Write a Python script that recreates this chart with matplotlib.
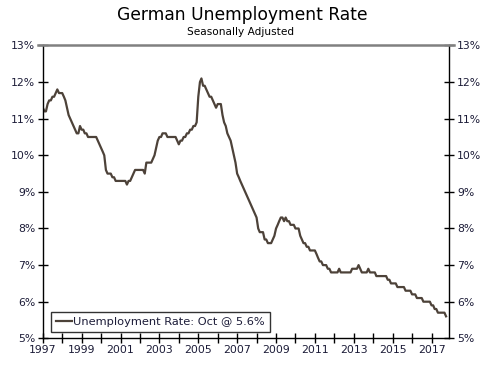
import matplotlib
matplotlib.use("Agg")
import matplotlib.pyplot as plt
import matplotlib.dates as mdates
import matplotlib.ticker as mticker
import pandas as pd
from matplotlib.lines import Line2D

# Monthly German unemployment rate (%), seasonally adjusted, Jan 1997 - Oct 2017
r1997 = [11.3, 11.2, 11.2, 11.4, 11.5, 11.5, 11.6, 11.6, 11.7, 11.8, 11.7, 11.7]
r1998 = [11.7, 11.6, 11.5, 11.3, 11.1, 11.0, 10.9, 10.8, 10.7, 10.6, 10.6, 10.8]
r1999 = [10.7, 10.7, 10.6, 10.6, 10.5, 10.5, 10.5, 10.5, 10.5, 10.5, 10.4, 10.3]
r2000 = [10.2, 10.1, 10.0, 9.6, 9.5, 9.5, 9.5, 9.4, 9.4, 9.3, 9.3, 9.3]
r2001 = [9.3, 9.3, 9.3, 9.3, 9.2, 9.3, 9.3, 9.4, 9.5, 9.6, 9.6, 9.6]
r2002 = [9.6, 9.6, 9.6, 9.5, 9.8, 9.8, 9.8, 9.8, 9.9, 10.0, 10.2, 10.4]
r2003 = [10.5, 10.5, 10.6, 10.6, 10.6, 10.5, 10.5, 10.5, 10.5, 10.5, 10.5, 10.4]
r2004 = [10.3, 10.4, 10.4, 10.5, 10.5, 10.6, 10.6, 10.7, 10.7, 10.8, 10.8, 10.9]
r2005 = [11.6, 12.0, 12.1, 11.9, 11.9, 11.8, 11.7, 11.6, 11.6, 11.5, 11.4, 11.3]
r2006 = [11.4, 11.4, 11.4, 11.1, 10.9, 10.8, 10.6, 10.5, 10.4, 10.2, 10.0, 9.8]
r2007 = [9.5, 9.4, 9.3, 9.2, 9.1, 9.0, 8.9, 8.8, 8.7, 8.6, 8.5, 8.4]
r2008 = [8.3, 8.0, 7.9, 7.9, 7.9, 7.7, 7.7, 7.6, 7.6, 7.6, 7.7, 7.8]
r2009 = [8.0, 8.1, 8.2, 8.3, 8.3, 8.2, 8.3, 8.2, 8.2, 8.1, 8.1, 8.1]
r2010 = [8.0, 8.0, 8.0, 7.8, 7.7, 7.6, 7.6, 7.5, 7.5, 7.4, 7.4, 7.4]
r2011 = [7.4, 7.3, 7.2, 7.1, 7.1, 7.0, 7.0, 7.0, 6.9, 6.9, 6.8, 6.8]
r2012 = [6.8, 6.8, 6.8, 6.9, 6.8, 6.8, 6.8, 6.8, 6.8, 6.8, 6.8, 6.9]
r2013 = [6.9, 6.9, 6.9, 7.0, 6.9, 6.8, 6.8, 6.8, 6.8, 6.9, 6.8, 6.8]
r2014 = [6.8, 6.8, 6.7, 6.7, 6.7, 6.7, 6.7, 6.7, 6.7, 6.6, 6.6, 6.5]
r2015 = [6.5, 6.5, 6.5, 6.4, 6.4, 6.4, 6.4, 6.4, 6.3, 6.3, 6.3, 6.3]
r2016 = [6.2, 6.2, 6.2, 6.1, 6.1, 6.1, 6.1, 6.0, 6.0, 6.0, 6.0, 6.0]
r2017 = [5.9, 5.9, 5.8, 5.8, 5.7, 5.7, 5.7, 5.7, 5.7, 5.6]

rates = (r1997 + r1998 + r1999 + r2000 + r2001 + r2002 + r2003 + r2004 + r2005
         + r2006 + r2007 + r2008 + r2009 + r2010 + r2011 + r2012 + r2013 + r2014
         + r2015 + r2016 + r2017)
dates = pd.date_range("1997-01-01", periods=len(rates), freq="MS")

title = "German Unemployment Rate"
subtitle = "Seasonally Adjusted"
legend_label = "Unemployment Rate: Oct @ 5.6%"
y_ticks = [5, 6, 7, 8, 9, 10, 11, 12, 13]

line_color = "#4d4239"
text_color = "#1c1c38"

fig = plt.figure(figsize=(5.0, 3.69), dpi=100)
ax = fig.add_axes([0.0856, 0.0832, 0.8130, 0.7935])

ax.plot(dates, rates, color=line_color, lw=1.6, solid_joinstyle="round",
        label=legend_label)

ax.set_xlim(pd.Timestamp("1997-01-01"), pd.Timestamp("2017-12-01"))
ax.set_ylim(5, 13)

ax.xaxis.set_major_locator(mdates.YearLocator(1))
ax.xaxis.set_major_formatter(
    mticker.FuncFormatter(lambda v, p: (str(mdates.num2date(v).year)
                                        if mdates.num2date(v).year % 2 == 1 else "")))
ax.set_yticks(y_ticks)
ax.yaxis.set_major_formatter(mticker.FuncFormatter(lambda v, p: f"{int(round(v))}%"))

ax.tick_params(axis="both", direction="inout", length=7, width=1, color="black",
               labelsize=7.8, labelcolor=text_color)
ax.tick_params(axis="y", left=True, right=True, labelleft=True, labelright=True, pad=2)
ax.tick_params(axis="x", pad=1)

for s in ["left", "right", "bottom"]:
    ax.spines[s].set_color("black")
    ax.spines[s].set_linewidth(1.0)
ax.spines["top"].set_visible(False)
# grey top rule at 13%
ax.add_line(Line2D([-0.012, 1.012], [1, 1], transform=ax.transAxes, color="#808080",
                   lw=1.8, clip_on=False, zorder=5))

leg = ax.legend(loc="lower left", bbox_to_anchor=(0.02, 0.02), borderaxespad=0,
                frameon=True, fancybox=False, edgecolor="black", fontsize=8.2,
                handlelength=1.4, handletextpad=0.1, borderpad=0.45)
leg.get_frame().set_linewidth(1.0)
for t in leg.get_texts():
    t.set_color(text_color)

fig.text(0.485, 0.958, title, ha="center", va="center", fontsize=12.3, color="black")
fig.text(0.482, 0.913, subtitle, ha="center", va="center", fontsize=7.6, color="black")

fig.savefig("out.png", dpi=100)
